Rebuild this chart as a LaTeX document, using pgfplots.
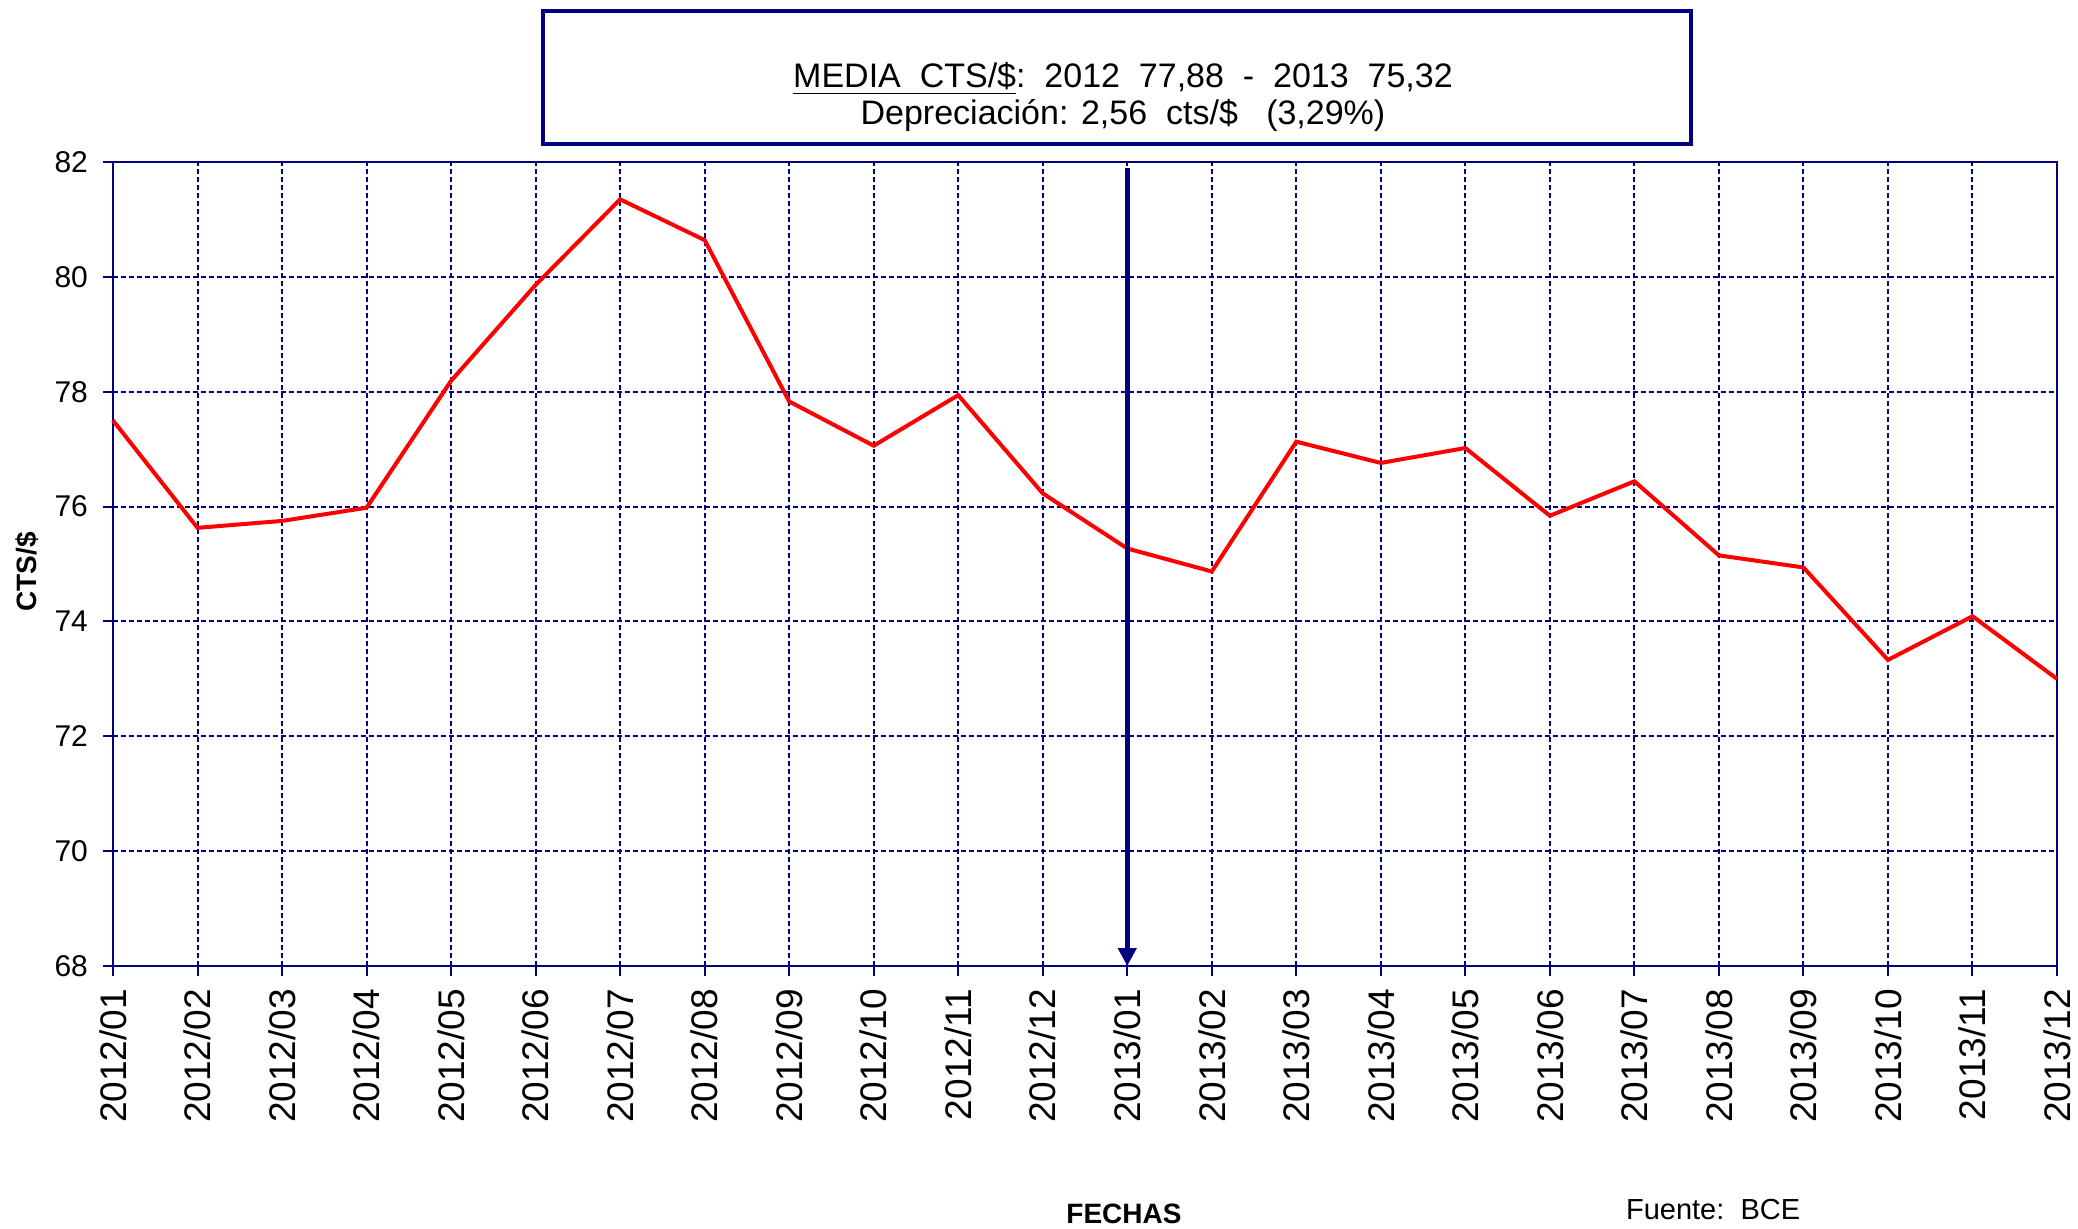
\documentclass[border=0pt]{standalone}
\usepackage{fontspec}
\setmainfont{Liberation Sans}
\usepackage{pgfplots}
\pgfplotsset{compat=1.18}
\usetikzlibrary{arrows.meta}
\definecolor{navy}{RGB}{0,0,128}

\begin{document}
\begin{tikzpicture}
\begin{axis}[
    at={(0,0)}, anchor=south west,
    scale only axis,
    width=972pt, height=402pt,
    xmin=0, xmax=23,
    ymin=68, ymax=82,
    xtick={0,...,23},
    xticklabels={2012/01,2012/02,2012/03,2012/04,2012/05,2012/06,2012/07,2012/08,2012/09,2012/10,2012/11,2012/12,
                 2013/01,2013/02,2013/03,2013/04,2013/05,2013/06,2013/07,2013/08,2013/09,2013/10,2013/11,2013/12},
    ytick={68,70,...,82},
    tick pos=left,
    tick align=outside,
    major tick length=5pt,
    tick style={navy, line width=1pt},
    axis line style={navy, line width=1.4pt},
    grid=major,
    grid style={navy, line width=1pt, dash pattern=on 2.5pt off 1.5pt},
    xticklabel style={font=\fontsize{18.5}{20}\selectfont, rotate=90, anchor=east, xshift=-3pt},
    yticklabel style={font=\fontsize{15}{17}\selectfont, xshift=-4pt},
    /pgf/number format/assume math mode=true,
    clip=false,
]
% tipo de cambio mensual (cts/$)
\addplot[color=red, line width=2pt] coordinates {
    (0,77.50) (1,75.63) (2,75.75) (3,75.98) (4,78.19) (5,79.86)
    (6,81.35) (7,80.64) (8,77.83) (9,77.06) (10,77.94) (11,76.23)
    (12,75.27) (13,74.87) (14,77.13) (15,76.76) (16,77.02) (17,75.84)
    (18,76.44) (19,75.15) (20,74.94) (21,73.33) (22,74.09) (23,73.00)
};
% separador de anios
\draw[navy, line width=2.4pt, -{Triangle[width=9pt,length=9pt]}] (axis cs:12,81.9) -- (axis cs:12,68);
\end{axis}

% recuadro del titulo
\draw[navy, line width=2pt, fill=white] (215pt,411pt) rectangle (789pt,477.5pt);
\node[font=\fontsize{17}{19}\selectfont, anchor=base] at (505pt,439pt)
    {\underline{MEDIA\ \ CTS/\$}:\ \ 2012\ \ 77,88\ \ -\ \ 2013\ \ 75,32};
\node[font=\fontsize{17}{19}\selectfont, anchor=base] at (505pt,420.5pt)
    {Depreciación: 2,56\ \ cts/\$\ \ \ (3,29\%)};

\node[font=\bfseries\fontsize{14}{16}\selectfont, rotate=90] at (-43pt,197pt) {CTS/\$};
\node[font=\bfseries\fontsize{14}{16}\selectfont] at (505.5pt,-124pt) {FECHAS};
\node[font=\fontsize{14.5}{16}\selectfont, anchor=west] at (753pt,-122pt) {Fuente:\ \ BCE};

\pgfresetboundingbox
\path[use as bounding box] (-56.5pt,-131pt) rectangle (982.5pt,483pt);
\end{tikzpicture}
\end{document}
